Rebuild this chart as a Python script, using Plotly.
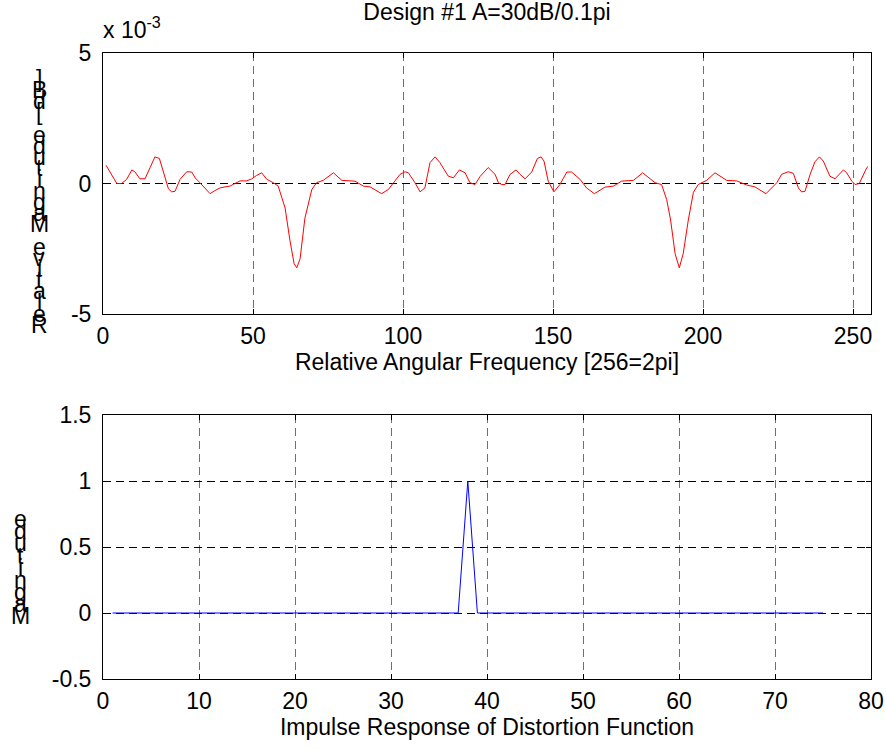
import plotly.graph_objects as go

# ---------------- data ----------------
title_text = "Design #1 A=30dB/0.1pi"

# top panel: relative magnitude (units of 1e-3), digitized vertices
freq_x = [1, 4, 4.6, 6.2, 7.9, 9.6, 10.7, 12.3, 14, 15.7, 17.3, 18.8, 20.1, 21.8, 22.9, 24,
          25.7, 27.9, 29.6, 30.7, 32.3, 34, 35.7, 37.3, 39, 40.7, 42.3, 44, 45.7, 47.9, 49.6,
          51.2, 52.9, 54.6, 56.8, 58.4, 60.7, 62.3, 63.7, 64.6, 65.7, 67.3, 69.6, 71.2, 73.4,
          76.8, 79.6, 84, 86.8, 89, 92.9, 95.1, 96.8, 99, 100.7, 101.8, 104, 105.7, 107.3, 109,
          110.7, 112.3, 115.1, 116.8, 118.8, 120.7, 122.3, 124,
          125.7, 128.4, 130.7, 131.8, 132.9, 134, 135.7, 137.7, 139, 140.7, 142.9, 144.8, 146,
          147, 148.4, 150.3, 152.3, 154.6, 156.2, 159, 161.2, 163.8, 167.3, 170.1, 172.9, 176.8,
          179.9, 182.3, 184, 186.2, 187.9, 189.2, 190.7, 192.1, 193.4, 195.1, 196.8, 198.4,
          201.2, 204, 207.9, 211.2, 214.6, 217.3, 221, 224.6, 226.2, 228.4, 230.1, 231.8, 232.9,
          234, 235.7, 237.3, 238.8, 240.1, 242.3, 244, 246.8, 247.9, 249.6, 250.7, 252.1, 254.6,
          255]
freq_y = [0.70, 0.16, 0.0, 0.0, 0.16, 0.52, 0.44, 0.18, 0.18, 0.61, 1.02, 0.96, 0.41, -0.20,
          -0.32, -0.30, 0.16, 0.45, 0.44, 0.22, 0.03, -0.17, -0.39, -0.27, -0.17, -0.13, -0.10,
          0.0, 0.10, 0.10, 0.18, 0.31, 0.41, 0.16, 0.03, -0.10, -0.94, -2.17, -3.07, -3.23,
          -2.88, -1.33, -0.23, 0.03, 0.12, 0.41, 0.12, 0.09, -0.10, -0.13, -0.39, -0.23, 0.03,
          0.35, 0.45, 0.41, 0.03, -0.32, -0.17, 0.80, 1.02, 0.80, 0.28, 0.22, 0.52, 0.41, 0.03,
          -0.04,
          0.27, 0.61, 0.35, 0.03, -0.04, -0.04, 0.35, 0.52, 0.35, 0.18, 0.44, 0.96, 1.02, 0.86,
          0.09, -0.32, -0.04, 0.44, 0.44, 0.16, -0.17, -0.39, -0.14, -0.10, 0.09, 0.12, 0.41,
          0.18, 0.03, -0.04, -0.62, -1.40, -2.69, -3.23, -2.69, -1.40, -0.34, -0.04, 0.12, 0.41,
          0.12, 0.10, -0.06, -0.13, -0.39, 0.03, 0.35, 0.45, 0.39, -0.17, -0.32, -0.30, 0.35,
          0.83, 1.02, 0.86, 0.28, 0.18, 0.52, 0.41, 0.09, -0.04, 0.0, 0.61, 0.65]

# bottom panel: impulse response vertices
imp_x = [1, 37, 38, 39, 75]
imp_y = [0, 0, 1, 0, 0]

top_xticks = [0, 50, 100, 150, 200, 250]
top_yticks = [-5e-3, 0, 5e-3]
top_yticklabels = ["-5", "0", "5"]
bot_xticks = [0, 10, 20, 30, 40, 50, 60, 70, 80]
bot_yticks = [-0.5, 0, 0.5, 1, 1.5]
bot_yticklabels = ["-0.5", "0", "0.5", "1", "1.5"]

top_ylabel = "Relative Magnitude [dB]"
bot_ylabel = "Magnitude"
top_xlabel = "Relative Angular Frequency [256=2pi]"
bot_xlabel = "Impulse Response of Distortion Function"

# ---------------- figure ----------------
W, H = 886, 749
FONT = "Liberation Sans, Arial, sans-serif"
FS = 23

def px_y(p):
    return 1 - p / H

fig = go.Figure()
fig.add_trace(go.Scatter(x=freq_x, y=[v * 1e-3 for v in freq_y], mode="lines",
                         line=dict(color="#ff0000", width=1), xaxis="x", yaxis="y",
                         showlegend=False, hoverinfo="skip"))
fig.add_trace(go.Scatter(x=imp_x, y=imp_y, mode="lines",
                         line=dict(color="#0000ff", width=1), xaxis="x2", yaxis="y2",
                         showlegend=False, hoverinfo="skip"))

dom_x = [103 / W, 871 / W]
common = dict(showline=True, linecolor="black", linewidth=1, mirror="ticks",
              ticks="inside", ticklen=5, tickcolor="black", zeroline=False,
              showgrid=True, griddash="8px,5px", gridwidth=1, automargin=False,
              tickfont=dict(family=FONT, size=FS, color="black"))

fig.update_layout(
    width=W, height=H, margin=dict(l=0, r=0, t=0, b=0, pad=0),
    paper_bgcolor="white", plot_bgcolor="white",
    font=dict(family=FONT, size=FS, color="black"),
    title=dict(text=title_text, x=487 / W, xanchor="center", y=px_y(12), yanchor="middle",
               automargin=False, font=dict(family=FONT, size=FS, color="black")),
    xaxis=dict(domain=dom_x, anchor="y", range=[0, 256], tickvals=top_xticks,
               gridcolor="#707070", ticklabelstandoff=1,
               title=dict(text=top_xlabel, standoff=3, font=dict(family=FONT, size=FS)),
               **common),
    yaxis=dict(domain=[px_y(314), px_y(53)], anchor="x", range=[-5e-3, 5e-3],
               tickvals=top_yticks, ticktext=top_yticklabels, gridcolor="black",
               ticklabelstandoff=6, **common),
    xaxis2=dict(domain=dom_x, anchor="y2", range=[0, 80], tickvals=bot_xticks,
                gridcolor="#707070", ticklabelstandoff=1,
                title=dict(text=bot_xlabel, standoff=4, font=dict(family=FONT, size=FS)),
                **common),
    yaxis2=dict(domain=[px_y(679), px_y(415)], anchor="x2", range=[-0.5, 1.5],
                tickvals=bot_yticks, ticktext=bot_yticklabels, gridcolor="black",
                ticklabelstandoff=6, **common),
)

annotations = [dict(text="x 10<sup>-3</sup>", x=101 / W, y=px_y(28), xref="paper", yref="paper",
                    xanchor="left", yanchor="middle", showarrow=False,
                    font=dict(family=FONT, size=FS, color="black"))]

# stacked (unrotated) y-label characters, as in the original rendering
def stacked(label, xc, y_bottom, pitch):
    out = []
    for i, ch in enumerate(label):
        if ch == " ":
            continue
        out.append(dict(text=ch, x=xc / W, y=px_y(y_bottom - (len(label) - 1 - i) * pitch),
                        xref="paper", yref="paper", xanchor="center", yanchor="middle",
                        showarrow=False, font=dict(family=FONT, size=FS, color="black")))
    return out

# characters read bottom-to-top in the original: first char of label at bottom
annotations += stacked(top_ylabel[::-1], 39, 325, 11.2)
annotations += stacked(bot_ylabel[::-1], 20, 616, 12.1)
fig.update_layout(annotations=annotations)

fig.write_html("out.html")
